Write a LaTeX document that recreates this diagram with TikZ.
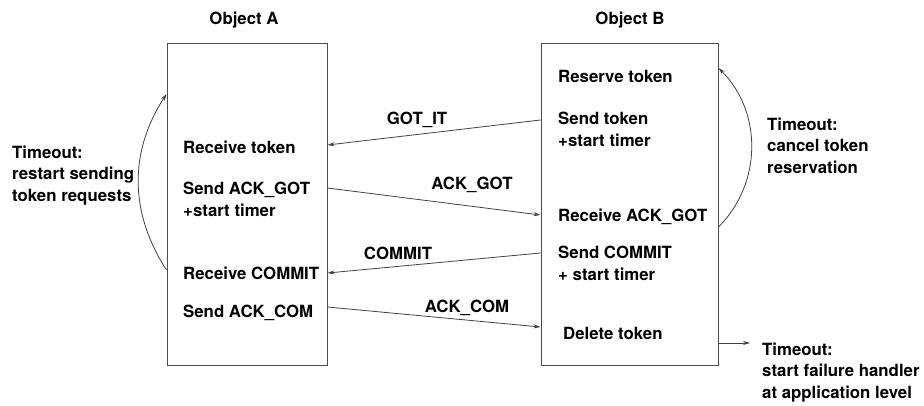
\documentclass[tikz,border=0pt]{standalone}
\usepackage{fontspec}
\setmainfont{TeX Gyre Heros}
\usetikzlibrary{arrows.meta}

\tikzset{
  objbox/.style={draw=black!70, line width=1pt, inner sep=0pt},
  msg/.style={draw=black!75, line width=0.8pt, -{Stealth[length=7pt,width=4pt]}},
  txt/.style={anchor=base west, inner sep=0pt, font=\bfseries\fontsize{16.8}{21.5}\selectfont, align=left},
  lbl/.style={anchor=base, inner sep=0pt, font=\bfseries\fontsize{16.8}{21.5}\selectfont}
}

\begin{document}
\begin{tikzpicture}[x=1pt, y=-1pt]
    \useasboundingbox (0,0) rectangle (924,405);

    % Objects
    \node[objbox, minimum width=160pt, minimum height=322pt] (boxA) at (247,204) {};
    \node[objbox, minimum width=177pt, minimum height=322pt] (boxB) at (629.5,204) {};
    \node[lbl] (titleA) at (244,24) {Object A};
    \node[lbl] (titleB) at (630,24) {Object B};

    % Steps of object A (multi-line nodes sit on their last line)
    \node[txt] (rcvTok) at (183,153) {Receive token};
    \node[txt] (sndAckGot) at (183,216) {Send ACK\_GOT\\+start timer};
    \node[txt] (rcvCommit) at (183,279) {Receive COMMIT};
    \node[txt] (sndAckCom) at (183,317) {Send ACK\_COM};

    % Steps of object B
    \node[txt] (resTok) at (558,82) {Reserve token};
    \node[txt] (sndTok) at (558,146) {Send token\\+start timer};
    \node[txt] (rcvAckGot) at (558,221) {Receive ACK\_GOT};
    \node[txt] (sndCommit) at (558,280) {Send COMMIT\\+ start timer};
    \node[txt] (delTok) at (563,339) {Delete token};

    % Messages
    \draw[msg] (boxB.west |- 0,120) -- (boxA.east |- 0,145);
    \node[lbl] (gotIt) at (417,124) {GOT\_IT};
    \draw[msg] (boxA.east |- 0,188) -- (boxB.west |- 0,215);
    \node[lbl] (ackGot) at (472,189) {ACK\_GOT};
    \draw[msg] (boxB.west |- 0,253) -- (boxA.east |- 0,273);
    \node[lbl] (commit) at (398,259) {COMMIT};
    \draw[msg] (boxA.east |- 0,307) -- (boxB.west |- 0,327);
    \node[lbl] (ackCom) at (467,312) {ACK\_COM};

    % Timeouts
    \draw[msg] (boxA.west |- 0,270) to[bend left=33] (boxA.west |- 0,94);
    \node[txt] (toA) at (12,201) {Timeout:\\restart sending\\token requests};
    \draw[msg] (boxB.east |- 0,227) to[bend right=45] (boxB.east |- 0,68);
    \node[txt] (toB) at (767,173) {Timeout:\\cancel token\\reservation};
    \coordinate (failEnd) at (750,343);
    \draw[msg] (boxB.east |- failEnd) -- (failEnd);
    \node[txt] (toFail) at (762,398) {Timeout:\\start failure handler\\at application level};
\end{tikzpicture}
\end{document}
